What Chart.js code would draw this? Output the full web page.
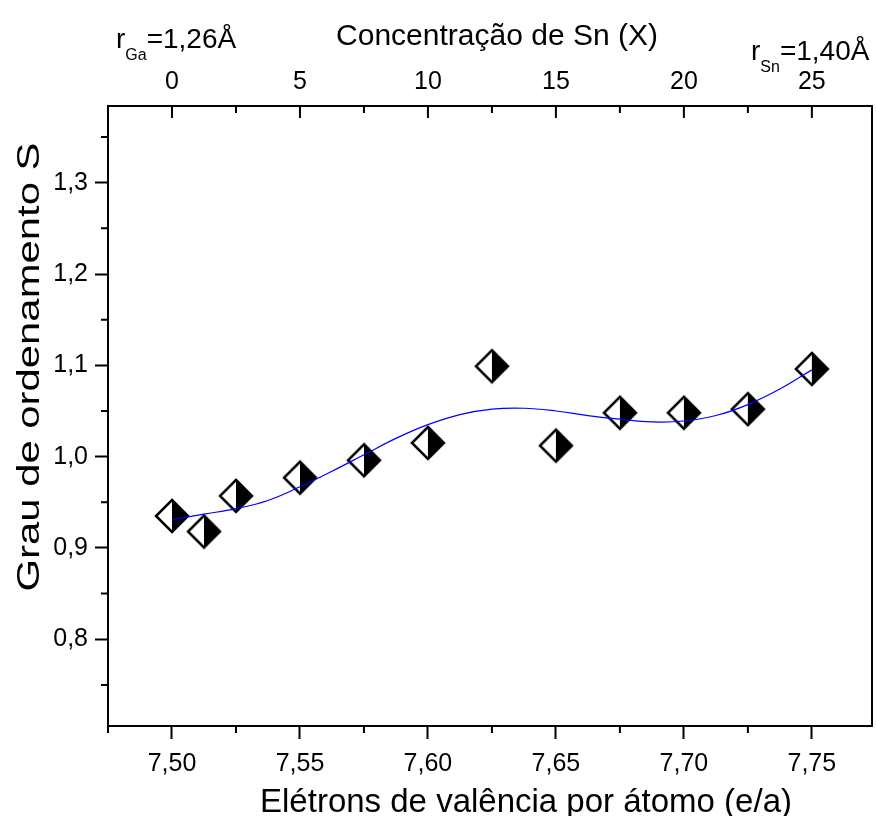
<!DOCTYPE html>
<html>
<head>
<meta charset="utf-8">
<script src="https://cdn.jsdelivr.net/npm/chart.js@4.4.1/dist/chart.umd.min.js"></script>
<style>
  html, body { margin: 0; padding: 0; background: #fff; }
  #wrap { width: 877px; height: 816px; }
</style>
</head>
<body>
<div id="wrap"><canvas id="chart"></canvas></div>
<script>
// measured points: valence electrons per atom vs order degree S
const electrons = [7.50, 7.5125, 7.525, 7.55, 7.575, 7.60, 7.625, 7.65, 7.675, 7.70, 7.725, 7.75];
const order = [0.935, 0.918, 0.957, 0.977, 0.996, 1.015, 1.099, 1.012, 1.048, 1.048, 1.052, 1.096];

// fitted curve
const fitX = [7.500, 7.5125, 7.525, 7.5375, 7.550, 7.5625, 7.575, 7.5875, 7.600, 7.6125, 7.625,
              7.6375, 7.650, 7.6625, 7.675, 7.6875, 7.700, 7.7125, 7.725, 7.7375, 7.750];
const fitY = [0.931, 0.937, 0.943, 0.952, 0.967, 0.984, 1.002, 1.020, 1.035, 1.046, 1.052,
              1.053, 1.050, 1.045, 1.041, 1.038, 1.039, 1.045, 1.057, 1.074, 1.095];

// tick values
const xTicks = [7.50, 7.55, 7.60, 7.65, 7.70, 7.75];
const xMinor = [7.475, 7.525, 7.575, 7.625, 7.675, 7.725];
const topTicks = [0, 5, 10, 15, 20, 25];
const topMinor = [2.5, 7.5, 12.5, 17.5, 22.5];
const yTicks = [0.8, 0.9, 1.0, 1.1, 1.2, 1.3];
const yMinor = [0.75, 0.85, 0.95, 1.05, 1.15, 1.25, 1.35];

const FONT = "'Liberation Sans', Arial, sans-serif";
const comma = (v, d) => v.toFixed(d).replace('.', ',');

// half white / half black diamond
const diamond = (() => {
    const s = 38, m = s / 2, r = 16;
    const c = document.createElement('canvas');
    c.width = s; c.height = s;
    const g = c.getContext('2d');
    g.beginPath(); g.moveTo(m, m - r); g.lineTo(m, m + r); g.lineTo(m - r, m); g.closePath();
    g.fillStyle = '#fff'; g.fill();
    g.beginPath(); g.moveTo(m, m - r); g.lineTo(m + r, m); g.lineTo(m, m + r); g.closePath();
    g.fillStyle = '#000'; g.fill();
    g.beginPath(); g.moveTo(m, m - r); g.lineTo(m + r, m); g.lineTo(m, m + r); g.lineTo(m - r, m); g.closePath();
    g.lineWidth = 2.5; g.lineJoin = 'miter'; g.strokeStyle = '#000'; g.stroke();
    return c;
})();

const frame = {
    id: 'frame',
    afterDraw(chart) {
        const { ctx, chartArea: a, scales } = chart;
        ctx.save();
        ctx.strokeStyle = '#000';
        ctx.lineWidth = 2;
        ctx.strokeRect(a.left, a.top, a.right - a.left, a.bottom - a.top);
        ctx.beginPath();
        yMinor.forEach(v => { const p = scales.y.getPixelForValue(v); ctx.moveTo(a.left, p); ctx.lineTo(a.left - 7, p); });
        xMinor.forEach(v => { const p = scales.x.getPixelForValue(v); ctx.moveTo(p, a.bottom); ctx.lineTo(p, a.bottom + 7); });
        topTicks.forEach(v => { const p = scales.x2.getPixelForValue(v); ctx.moveTo(p, a.top); ctx.lineTo(p, a.top + 12); });
        topMinor.forEach(v => { const p = scales.x2.getPixelForValue(v); ctx.moveTo(p, a.top); ctx.lineTo(p, a.top + 7); });
        ctx.stroke();

        ctx.fillStyle = '#000';
        ctx.textBaseline = 'alphabetic';

        // axis titles
        ctx.textAlign = 'center';
        ctx.font = '30px ' + FONT;
        ctx.fillText('Concentração de Sn (X)', 497, 45);
        ctx.font = '33px ' + FONT;
        ctx.fillText('Elétrons de valência por átomo (e/a)', 526, 812);
        ctx.save();
        ctx.translate(39, 367);
        ctx.rotate(-Math.PI / 2);
        ctx.scale(1.35, 1);
        ctx.font = '31px ' + FONT;
        ctx.fillText('Grau de ordenamento S', 0, 0);
        ctx.restore();

        // ionic radius labels
        ctx.textAlign = 'left';
        const label = (x, y, sub, rest) => {
            ctx.font = '28px ' + FONT;
            ctx.fillText('r', x, y);
            let w = ctx.measureText('r').width;
            ctx.font = '16px ' + FONT;
            ctx.fillText(sub, x + w, y + 12);
            w += ctx.measureText(sub).width;
            ctx.font = '28px ' + FONT;
            ctx.fillText(rest, x + w, y);
        };
        label(116, 48, 'Ga', '=1,26Å');
        label(751, 60, 'Sn', '=1,40Å');
        ctx.restore();
    }
};

new Chart(document.getElementById('chart'), {
    data: {
        datasets: [
            {
                type: 'scatter',
                data: electrons.map((x, i) => ({ x: x, y: order[i] })),
                pointStyle: diamond,
                order: 1
            },
            {
                type: 'line',
                data: fitX.map((x, i) => ({ x: x, y: fitY[i] })),
                borderColor: '#0000ff',
                borderWidth: 1.2,
                pointRadius: 0,
                tension: 0.4,
                fill: false,
                order: 0
            }
        ]
    },
    options: {
        responsive: true,
        maintainAspectRatio: false,
        animation: false,
        layout: { padding: { right: 1 } },
        plugins: {
            legend: { display: false },
            tooltip: { enabled: false }
        },
        scales: {
            x: {
                type: 'linear',
                position: 'bottom',
                min: 7.475,
                max: 7.7735,
                afterBuildTicks: s => { s.ticks = xTicks.map(v => ({ value: v })); },
                afterFit: s => { s.height = 90; },
                border: { display: false },
                grid: { drawOnChartArea: false, tickLength: 13, tickWidth: 2, tickColor: '#000' },
                ticks: {
                    color: '#000', font: { family: FONT, size: 25 }, padding: 10,
                    maxRotation: 0, autoSkip: false,
                    callback: v => comma(v, 2)
                }
            },
            x2: {
                type: 'linear',
                position: 'top',
                min: -2.5,
                max: 27.35,
                afterBuildTicks: s => { s.ticks = topTicks.map(v => ({ value: v })); },
                afterFit: s => { s.height = 106; },
                border: { display: false },
                grid: { drawOnChartArea: false, drawTicks: false },
                ticks: {
                    color: '#000', font: { family: FONT, size: 25 }, padding: 9,
                    maxRotation: 0, autoSkip: false,
                    callback: v => String(v)
                }
            },
            y: {
                type: 'linear',
                position: 'left',
                min: 0.705,
                max: 1.384,
                afterBuildTicks: s => { s.ticks = yTicks.map(v => ({ value: v })); },
                afterFit: s => { s.width = 108; },
                border: { display: false },
                grid: { drawOnChartArea: false, tickLength: 13, tickWidth: 2, tickColor: '#000' },
                ticks: {
                    color: '#000', font: { family: FONT, size: 25 }, padding: 7,
                    callback: v => comma(v, 1)
                }
            }
        }
    },
    plugins: [frame]
});
</script>
</body>
</html>
